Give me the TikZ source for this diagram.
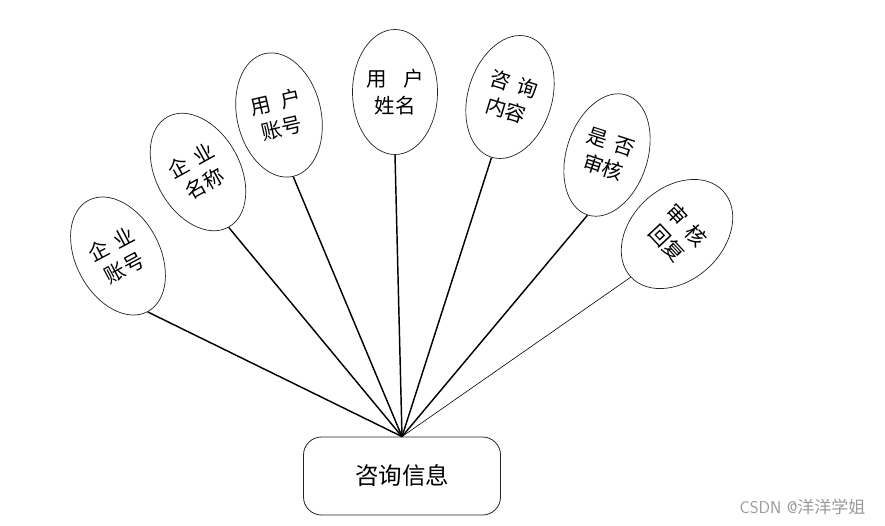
\documentclass[tikz,border=0pt]{standalone}
\usepackage{fontspec}
\usepackage{xcolor}
\usepackage{tikz}
\usetikzlibrary{shapes.geometric}
\newfontfamily\cjk{Noto Sans CJK SC}
\definecolor{edge}{HTML}{222222}
\definecolor{mark}{HTML}{9A9A9A}

\begin{document}
\begin{tikzpicture}[x=1pt, y=-1pt, font=\cjk]
\tikzset{attr/.style={ellipse, draw=edge, line width=.7pt, minimum width=84pt, minimum height=126pt, inner sep=0pt, align=center, font=\cjk\fontsize{20.5}{27}\selectfont}, entity/.style={draw=edge, rounded corners=18pt, line width=.8pt, minimum width=197pt, minimum height=78pt, font=\cjk\fontsize{23.5}{28}\selectfont}, link/.style={draw=black, line width=1.45pt}}
\useasboundingbox (0,0) rectangle (885,525);
\node[entity] (info) at (402,476) {咨询信息};
\node[attr, rotate=28] (qyzh) at (118,256) {企\hspace{.4em}业\\账号};
\node[attr, rotate=29] (qymc) at (198,172) {企\hspace{.4em}业\\名称};
\node[attr, rotate=13] (yhzh) at (279,115) {用\hspace{.5em}户\\账号};
\node[attr, minimum width=85pt, minimum height=125pt] (yhxm) at (395,92) {用\hspace{.8em}户\\姓名};
\node[attr, rotate=-17] (zxnr) at (510,97) {咨\hspace{.4em}询\\内容};
\node[attr, rotate=-18, minimum width=81pt] (sfsh) at (607,155) {是\hspace{.4em}否\\审核};
\node[attr, rotate=-47, minimum width=92pt] (shhf) at (677,234) {审\hspace{.4em}核\\回复};
\draw[link] (qyzh.south) -- (info.north); \draw[link] (qymc.south) -- (info.north); \draw[link] (yhzh.south) -- (info.north); \draw[link] (yhxm.south) -- (info.north); \draw[link] (zxnr.south) -- (info.north); \draw[link] (sfsh.south) -- (info.north);
\draw[link, line width=.6pt] (shhf.south) -- (info.north);
\node[text=mark, font=\sffamily\fontsize{17}{20}\selectfont, anchor=east] (wm) at (869,507) {CSDN @{\cjk 洋洋学姐}};
\end{tikzpicture}
\end{document}
